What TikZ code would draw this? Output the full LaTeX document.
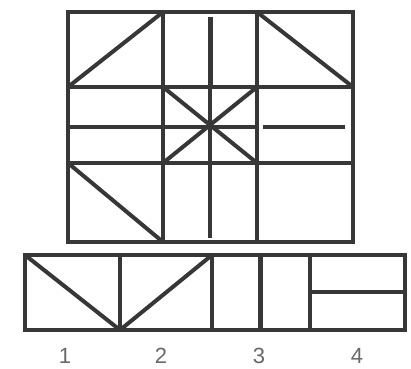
\documentclass[tikz,border=0pt]{standalone}
\usepackage{fontspec}
\setsansfont{Liberation Sans}
\definecolor{ink}{RGB}{55,55,55}
\definecolor{lab}{RGB}{105,105,105}
\begin{document}
\begin{tikzpicture}[x=1pt,y=-1pt,
  frame/.style={draw=ink,line width=4.8pt,line join=miter},
  inner/.style={draw=ink,line width=4pt},
  thick3/.style={draw=ink,line width=5pt},
  lbl/.style={text=lab,font=\sffamily\fontsize{22}{22}\selectfont,inner sep=0pt}]
\useasboundingbox (0,0) rectangle (411,368);
% ---------- top grid ----------
\coordinate (TL) at (68,12);
\coordinate (BR) at (353,242);
\draw[frame] (TL) rectangle (BR);
\draw[inner] (163,12) -- (163,242);
\draw[inner] (257,12) -- (257,242);
\draw[inner] (68,87) -- (353,87);
\draw[inner] (68,163) -- (353,163);
% diagonals in corner cells
\draw[inner] (68,87) -- (163,12);
\draw[inner] (257,12) -- (353,87);
\draw[inner] (68,163) -- (163,242);
% central vertical line
\draw[thick3] (210,17) -- (210,87);
\draw[inner] (210,87) -- (210,163);
\draw[inner] (210,163) -- (210,238);
% middle horizontal lines
\draw[inner] (68,127) -- (257,127);
\draw[inner] (263,127) -- (345,127);
% star diagonals
\draw[inner] (163,87) -- (257,163);
\draw[inner] (257,87) -- (163,163);
% ---------- bottom strip ----------
\draw[frame] (25,255) rectangle (405,330);
\draw[inner] (120,255) -- (120,330);
\draw[inner] (212,255) -- (212,330);
\draw[inner] (310,255) -- (310,330);
\draw[inner] (25,255) -- (120,330);
\draw[inner] (120,330) -- (212,255);
\draw[thick3] (260,257) -- (260,330);
\draw[inner] (310,292) -- (405,292);
% ---------- labels ----------
\node[lbl] (n1) at (65,356) {1};
\node[lbl] (n2) at (161,356) {2};
\node[lbl] (n3) at (259,356) {3};
\node[lbl] (n4) at (357,356) {4};
\end{tikzpicture}
\end{document}
